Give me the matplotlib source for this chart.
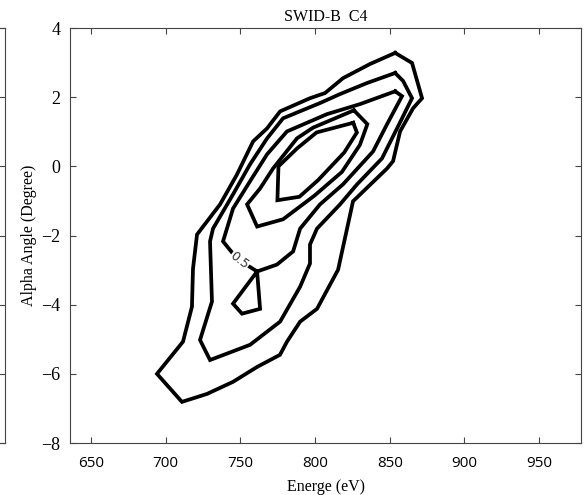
import numpy as np
import matplotlib.pyplot as plt

# contour vertices (energy in eV, alpha angle in degrees)
c1_energy = [853.6, 864.9, 871.6, 865.6, 856.9, 852.2, 848.2, 825.4, 815.4, 801.3,
             790.0, 781.2, 776.5, 761.2, 745.1, 727.7, 710.9, 694.2, 711.6, 717.6,
             718.3, 721.0, 736.4, 747.8, 758.5, 767.9, 776.6, 796.6, 806.7, 818.7, 836.8]
c1_angle = [3.28, 2.99, 1.97, 1.68, 1.01, 0.15, -0.06, -1.01, -2.99, -4.12,
            -4.49, -5.07, -5.45, -5.80, -6.23, -6.58, -6.81, -6.00, -5.07, -4.06,
            -2.96, -1.97, -1.10, -0.23, 0.72, 1.10, 1.59, 1.97, 2.12, 2.55, 2.96]

c2_energy = [853.6, 858.9, 864.9, 854.9, 844.8, 828.1, 816.7, 801.3, 796.6, 796.6,
             790.0, 776.6, 756.5, 729.7, 723.0, 731.0, 729.7, 731.7, 745.1, 756.5,
             767.9, 778.6, 803.3, 816.7, 834.8]
c2_angle = [2.70, 2.47, 1.97, 1.10, 0.23, -0.52, -1.10, -1.80, -2.26, -2.81,
            -3.48, -4.49, -5.16, -5.60, -5.02, -3.91, -2.17, -1.80, -0.81, 0.06,
            0.81, 1.39, 1.83, 2.09, 2.41]

c3_energy = [853.6, 858.2, 848.2, 838.8, 818.7, 803.3, 790.0, 785.3, 774.5, 761.2,
             745.1, 751.1, 763.2, 761.2, 747.8, 738.4, 745.1, 756.5, 767.9, 781.2,
             808.0, 830.1]
c3_angle = [2.17, 2.03, 1.22, 0.43, -0.52, -1.10, -1.80, -2.46, -2.84, -3.04,
            -3.97, -4.26, -4.12, -3.04, -2.67, -2.17, -1.22, -0.43, 0.35, 1.01,
            1.51, 1.80]

c4_energy = [826.0, 835.0, 830.0, 818.0, 799.5, 778.6, 761.2, 754.5, 763.2, 771.9,
             787.9, 798.7]
c4_angle = [1.62, 1.22, 0.62, -0.16, -0.85, -1.53, -1.74, -1.10, -0.64, -0.06,
            0.81, 1.12]

c5_energy = [825.5, 828.0, 819.5, 802.0, 789.5, 774.8, 775.5, 788.0, 801.0]
c5_angle = [1.26, 0.98, 0.40, -0.40, -0.88, -0.98, 0.00, 0.52, 0.98]

contours = [(c1_energy, c1_angle), (c2_energy, c2_angle), (c3_energy, c3_angle),
            (c4_energy, c4_angle), (c5_energy, c5_angle)]

x_ticks = [650, 700, 750, 800, 850, 900, 950]
y_ticks = [-8, -6, -4, -2, 0, 2, 4]

serif = 'Liberation Serif'
spine_col = '#444444'

fig = plt.figure(figsize=(5.86, 4.95), dpi=100)

# sliver of the neighbouring panel on the left
ax0 = fig.add_axes([-0.5, 0.105, 0.5085, 0.8384])
ax0.set_ylim(-8, 4)
ax0.set_xlim(0, 1)
ax0.set_yticks(y_ticks)
ax0.set_xticks([])
ax0.tick_params(axis='y', which='both', direction='in', left=False, right=True,
                labelleft=False, length=4, color=spine_col)
for s in ax0.spines.values():
    s.set_color(spine_col)

ax = fig.add_axes([0.1195, 0.105, 0.872, 0.8384])
for e, a in contours:
    e = np.append(e, e[0])
    a = np.append(a, a[0])
    ax.plot(e, a, color='black', lw=2.7, solid_joinstyle='miter')

ax.text(749.5, -2.72, '0.5', rotation=-38, ha='center', va='center',
        fontsize=9, color='#333333', family='DejaVu Sans',
        bbox=dict(facecolor='white', edgecolor='none', pad=0.3), zorder=5)

ax.set_xlim(636, 978)
ax.set_ylim(-8, 4)
ax.set_xticks(x_ticks)
ax.set_yticks(y_ticks)
ax.tick_params(direction='in', top=True, right=True, length=4, color=spine_col)
ax.tick_params(axis='x', pad=9)
ax.tick_params(axis='y', pad=7)
for lab in ax.get_xticklabels():
    lab.set_family('Open Sans')
    lab.set_fontsize(11)
for lab in ax.get_yticklabels():
    lab.set_family(serif)
    lab.set_fontsize(13)
for s in ax.spines.values():
    s.set_color(spine_col)

ax.set_title('SWID-B  C4', family=serif, fontsize=11.5, pad=5)
ax.set_xlabel('Energe (eV)', family=serif, fontsize=11.5, labelpad=6)
ax.set_ylabel('Alpha Angle (Degree)', family=serif, fontsize=11.5, labelpad=3)

fig.savefig('out.png', dpi=100)
